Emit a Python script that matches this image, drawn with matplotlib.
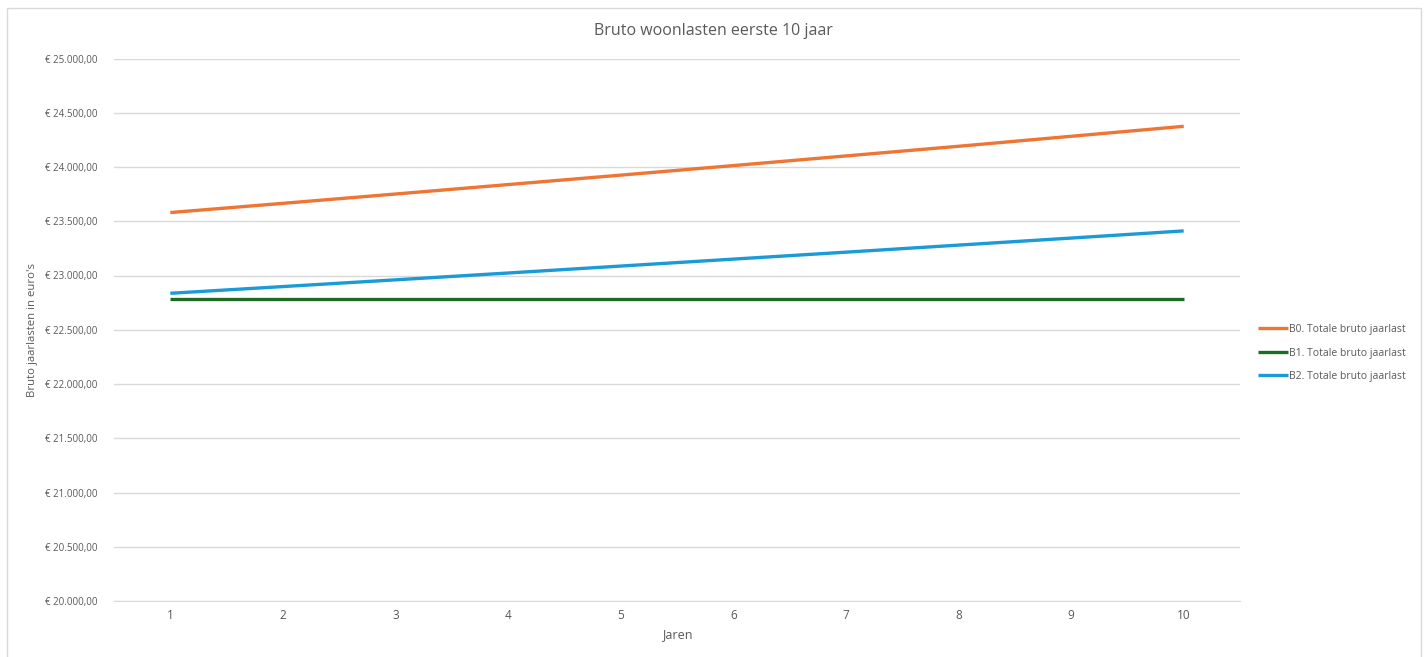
import matplotlib.pyplot as plt
from matplotlib.ticker import FuncFormatter
from matplotlib.patches import Rectangle
from matplotlib import font_manager

# Yearly gross housing costs per scenario (euro)
years = [1, 2, 3, 4, 5, 6, 7, 8, 9, 10]
b0 = [23580, 23665, 23751, 23838, 23925, 24013, 24102, 24191, 24283, 24375]
b1 = [22786, 22786, 22786, 22786, 22786, 22786, 22786, 22786, 22786, 22786]
b2 = [22836, 22898, 22960, 23023, 23087, 23151, 23215, 23280, 23345, 23411]
labels = ['B0. Totale bruto jaarlast', 'B1. Totale bruto jaarlast',
          'B2. Totale bruto jaarlast']
colors = ['#EE7534', '#1E6B24', '#1A9BD7']

names = {f.name for f in font_manager.fontManager.ttflist}
narrow = 'Liberation Sans Narrow' if 'Liberation Sans Narrow' in names else 'Open Sans'
plt.rcParams['font.family'] = ['Open Sans', 'DejaVu Sans']
grey = '#595959'


def euro(v, pos):
    s = f'{v:,.2f}'.replace(',', 'X').replace('.', ',').replace('X', '.')
    return f'€ {s}'


fig = plt.figure(figsize=(14.27, 6.57), dpi=100)
fig.patches.append(Rectangle((7 / 1427, -0.01), 1414 / 1427, 1 - 8 / 657 + 0.01,
                             transform=fig.transFigure, fill=False,
                             edgecolor='#D9D9D9', linewidth=1.0))

ax = fig.add_axes([114 / 1427, 1 - 601 / 657, 1126 / 1427, 542.5 / 657])
for series, lab, col in zip([b0, b1, b2], labels, colors):
    ax.plot(years, series, color=col, linewidth=2.4, label=lab,
            solid_capstyle='butt')

ax.set_xlim(0.5, 10.5)
ax.set_ylim(20000, 25000)
ax.set_yticks(range(20000, 25001, 500))
ax.set_xticks(years)
ax.yaxis.set_major_formatter(FuncFormatter(euro))
ax.grid(axis='y', color='#D9D9D9', linewidth=1.0)
ax.set_axisbelow(True)
for side in ['top', 'right', 'left']:
    ax.spines[side].set_visible(False)
ax.spines['bottom'].set_color('#D9D9D9')
ax.tick_params(length=0, colors=grey)
ax.tick_params(axis='y', labelsize=7, pad=12)
ax.tick_params(axis='x', labelsize=8.5, pad=6)
for t in ax.get_xticklabels():
    t.set_fontfamily(narrow)

ax.set_xlabel('Jaren', fontsize=9, color=grey, family=narrow, labelpad=4)
ax.set_ylabel("Bruto jaarlasten in euro's", fontsize=8.2, color=grey, labelpad=5)
fig.text(0.5, 1 - 31 / 657, 'Bruto woonlasten eerste 10 jaar', ha='center',
         va='center', fontsize=11.5, color=grey)

leg = ax.legend(loc='center left', bbox_to_anchor=(1.0125, 0.457), frameon=False,
                handlelength=2.9, handletextpad=0.1, labelspacing=1.2,
                borderaxespad=0, prop={'family': narrow, 'size': 7.5})
for t in leg.get_texts():
    t.set_color(grey)

fig.savefig('out.png', dpi=100, facecolor='white')
